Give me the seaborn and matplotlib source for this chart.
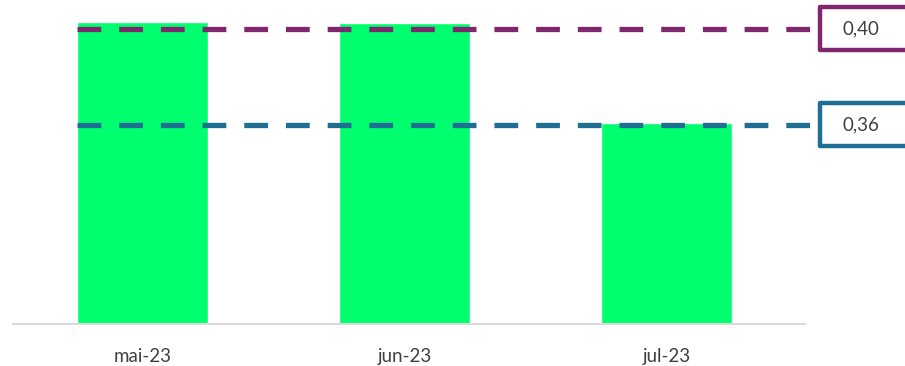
import matplotlib
matplotlib.use("Agg")
import matplotlib.pyplot as plt
from matplotlib.patches import Rectangle
import seaborn as sns
import pandas as pd

# Monthly values and the two reference levels
months = ["mai-23", "jun-23", "jul-23"]
values = [0.4028, 0.4024, 0.3607]
ref_levels = [0.40, 0.36]
ref_colors = ["#80266F", "#1F6E94"]

BAR_GREEN = "#00FF6E"
TEXT_GREY = "#404040"

sns.set_theme(style="white")
plt.rcParams["font.family"] = ["Lato", "DejaVu Sans"]

fig = plt.figure(figsize=(9.05, 3.66), dpi=100)
ax = fig.add_axes([13 / 905, 42 / 366, 792 / 905, 324 / 366])

df = pd.DataFrame({"month": months, "value": values})
sns.barplot(data=df, x="month", y="value", color=BAR_GREEN, saturation=1,
            width=0.5, ax=ax, zorder=1)

ax.set_xlim(-0.496, 2.527)
ax.set_ylim(0.2773, 0.4119)

# Dashed reference lines running past the plot area into the labels
for lvl, col in zip(ref_levels, ref_colors):
    ax.plot([-0.25, 2.585], [lvl, lvl], color=col, lw=3.8,
            dashes=(4.5, 3.4), solid_capstyle="butt", dash_capstyle="butt",
            clip_on=False, zorder=3)
    box_h = 43 / 2407
    ax.add_patch(Rectangle((1.019, lvl - box_h / 2), 0.2, box_h,
                           transform=ax.get_yaxis_transform(),
                           facecolor="white", edgecolor=col, lw=3.2,
                           joinstyle="round", clip_on=False, zorder=4))
    ax.text(1.047, lvl, f"{lvl:.2f}".replace(".", ","),
            transform=ax.get_yaxis_transform(), ha="left", va="center",
            fontsize=13.5, color=TEXT_GREY, clip_on=False, zorder=5)

for side in ["top", "right", "left"]:
    ax.spines[side].set_visible(False)
ax.spines["bottom"].set_color("#D9D9D9")
ax.spines["bottom"].set_linewidth(1.5)

ax.set_yticks([])
ax.set_xlabel("")
ax.set_ylabel("")
ax.tick_params(axis="x", length=0, pad=17, labelsize=13.5, labelcolor=TEXT_GREY)

fig.savefig("out.png", dpi=100)
